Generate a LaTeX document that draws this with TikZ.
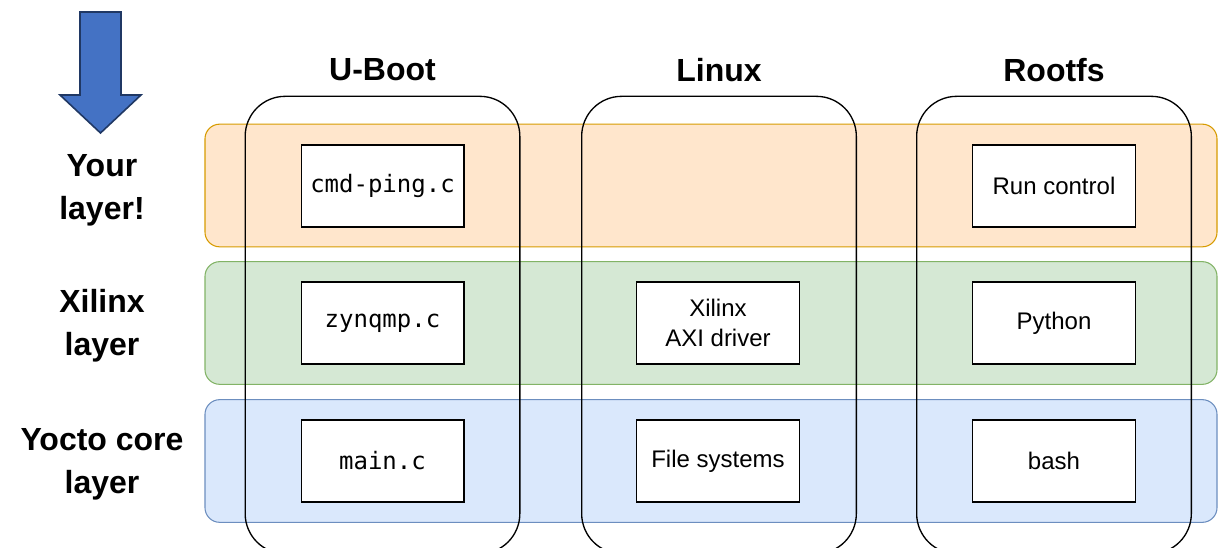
\documentclass[tikz,border=0pt]{standalone}
\usepackage{fontspec}
\setmainfont{Liberation Sans}
\setmonofont{DejaVu Sans Mono}
\usetikzlibrary{positioning}
\definecolor{orfill}{HTML}{FFE6CC}\definecolor{ordraw}{HTML}{D79B00}
\definecolor{grfill}{HTML}{D5E8D4}\definecolor{grdraw}{HTML}{82B366}
\definecolor{blfill}{HTML}{DAE8FC}\definecolor{bldraw}{HTML}{6C8EBF}
\definecolor{arfill}{HTML}{4472C4}\definecolor{ardraw}{HTML}{203864}
\begin{document}
\begin{tikzpicture}[x=0.75pt,y=-0.75pt,font=\fontsize{18}{21}\selectfont]
\tikzstyle{band}=[rectangle,rounded corners=11pt,minimum width=759pt,minimum height=92pt,line width=0.8pt]
\tikzstyle{col}=[rectangle,draw,rounded corners=30pt,minimum width=206pt,minimum height=343pt,line width=1pt]
\tikzstyle{file}=[rectangle,draw,fill=white,minimum width=122pt,minimum height=61.5pt,line width=1pt,align=center]
\tikzstyle{head}=[font=\fontsize{24}{32}\selectfont\bfseries,align=center]
\useasboundingbox (0,0) rectangle (1218,548);
\clip (0,0) rectangle (1218,548);
% layers
\node[band,fill=orfill,draw=ordraw] (yours) at (711,185.5) {};
\node[band,fill=grfill,draw=grdraw] (xlnx) at (711,323) {};
\node[band,fill=blfill,draw=bldraw] (core) at (711,461) {};
% recipes
\node[col] (uboot) at (382.5,325) {}; \node[col] (linux) at (719,325) {}; \node[col] (rootfs) at (1054,325) {};
\node[head] (tu) at (382.5,70) {U-Boot}; \node[head] (tl) at (719,70) {Linux}; \node[head] (tr) at (1054,70) {Rootfs};
\node[head] (ly) at (102,190) {Your\\layer!};
\node[head] (lx) at (102,326) {Xilinx\\layer};
\node[head] (lc) at (102,464) {Yocto core\\layer};
% files
\node[file,font=\fontsize{18}{21}\selectfont\ttfamily] (ping) at (382.5,186) {cmd-ping.c};
\node[file] (run) at (1054,186) {Run control};
\node[file,font=\fontsize{18}{21}\selectfont\ttfamily] (zynq) at (382.5,323) {zynqmp.c};
\node[file,font=\fontsize{18}{22.5}\selectfont] (axi) at (718,323) {Xilinx\\AXI driver};
\node[file] (py) at (1054,323) {Python};
\node[file,font=\fontsize{18}{21}\selectfont\ttfamily] (mainc) at (382.5,461) {main.c};
\node[file] (fs) at (718,461) {File systems};
\node[file] (sh) at (1054,461) {bash};
% arrow
\draw[fill=arfill,draw=ardraw,line width=1.2pt,line join=miter] (80,12) -- (121,12) -- (121,95) -- (141,95) -- (100.5,133) -- (60,95) -- (80,95) -- cycle;
\end{tikzpicture}
\end{document}
